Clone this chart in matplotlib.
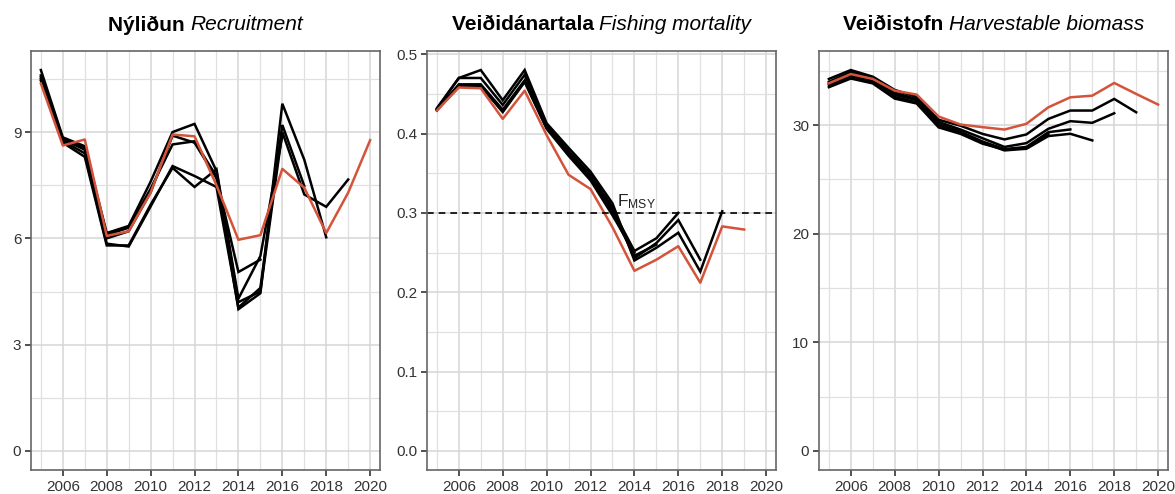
import numpy as np
import matplotlib
matplotlib.use("Agg")
import matplotlib.pyplot as plt
from matplotlib.ticker import MultipleLocator

plt.rcParams['font.family'] = ['Liberation Sans', 'DejaVu Sans']
plt.rcParams['mathtext.default'] = 'regular'

years = list(range(2005, 2021))

# Nýliðun / Recruitment
rec_current = [10.37, 8.62, 8.79, 6.07, 6.2, 7.29, 8.93, 8.88, 7.5, 5.96, 6.09, 7.96, 7.43, 6.15, 7.29, 8.77]
rec_retro = [
    [10.75, 8.85, 8.6, 6.15, 6.35, 7.6, 9.0, 9.23, 7.9, 4.2, 4.5, 9.0, 7.24, 6.89, 7.66],
    [10.6, 8.8, 8.5, 6.1, 6.3, 7.4, 8.65, 8.74, 7.75, 4.0, 4.45, 9.8, 8.22, 6.03],
    [10.5, 8.75, 8.4, 5.85, 5.77, 6.9, 8.04, 7.76, 7.45, 4.05, 4.6, 9.2, 7.48],
    [10.45, 8.7, 8.3, 5.8, 5.8, 6.95, 7.99, 7.45, 7.95, 4.3, 5.5, 8.9],
    [10.55, 8.8, 8.55, 6.0, 6.2, 7.3, 8.9, 8.7, 7.7, 5.05, 5.4],
]

# Veiðidánartala / Fishing mortality
f_current = [0.429, 0.458, 0.457, 0.4185, 0.454, 0.398, 0.348, 0.33, 0.282, 0.227, 0.241, 0.258, 0.212, 0.283, 0.279]
f_retro = [
    [0.432, 0.470, 0.480, 0.442, 0.480, 0.413, 0.382, 0.352, 0.312, 0.240, 0.256, 0.275, 0.226, 0.302],
    [0.431, 0.470, 0.470, 0.436, 0.474, 0.410, 0.378, 0.348, 0.307, 0.243, 0.262, 0.291, 0.241],
    [0.430, 0.462, 0.462, 0.430, 0.467, 0.409, 0.376, 0.346, 0.304, 0.252, 0.268, 0.300],
    [0.429, 0.460, 0.460, 0.428, 0.466, 0.407, 0.374, 0.343, 0.300, 0.246, 0.260],
    [0.430, 0.459, 0.460, 0.427, 0.465, 0.406, 0.372, 0.341, 0.297, 0.250],
]
f_msy = 0.3

# Veiðistofn / Harvestable biomass
b_current = [33.86, 34.71, 34.26, 33.18, 32.82, 30.8, 30.06, 29.82, 29.6, 30.13, 31.65, 32.57, 32.72, 33.89, 32.88, 31.9]
b_retro = [
    [34.26, 35.08, 34.47, 33.25, 32.6, 30.5, 29.95, 29.2, 28.69, 29.15, 30.58, 31.35, 31.35, 32.42, 31.19],
    [34.0, 34.9, 34.3, 33.0, 32.4, 30.3, 29.6, 28.8, 28.0, 28.35, 29.67, 30.37, 30.22, 31.1],
    [33.7, 34.5, 34.0, 32.6, 32.1, 29.9, 29.3, 28.4, 27.68, 27.83, 29.0, 29.21, 28.6],
    [33.85, 34.7, 34.1, 32.8, 32.3, 30.1, 29.4, 28.5, 27.8, 28.0, 29.36, 29.61],
    [33.5, 34.3, 33.85, 32.45, 32.0, 29.8, 29.2, 28.3, 27.75, 27.9, 29.2],
]

titles = [("Nýliðun", "Recruitment"),
          ("Veiðidánartala", "Fishing mortality"),
          ("Veiðistofn", "Harvestable biomass")]
red = '#d4533b'
W, H = 1175, 494

fig = plt.figure(figsize=(W / 100, H / 100), dpi=100)
lefts = [31, 427, 819]
pw = 349
bottom, top = 470, 51


def style_axis(ax, ymajor):
    ax.set_xlim(2004.55, 2020.45)
    ax.xaxis.set_major_locator(MultipleLocator(2))
    ax.xaxis.set_minor_locator(MultipleLocator(1))
    ax.yaxis.set_major_locator(MultipleLocator(ymajor))
    ax.yaxis.set_minor_locator(MultipleLocator(ymajor / 2))
    ax.grid(which='major', color='#d6d6d6', lw=1.1)
    ax.grid(which='minor', color='#e0e0e0', lw=0.9)
    ax.set_axisbelow(True)
    for s in ax.spines.values():
        s.set_color('#666666')
        s.set_linewidth(1.2)
    ax.tick_params(which='major', direction='out', length=4, width=1.2, color='#333333',
                   labelsize=11, labelcolor='#333333', pad=3)
    ax.tick_params(which='minor', length=0)


panels = [(rec_current, rec_retro, 3, '{:.0f}'),
          (f_current, f_retro, 0.1, '{:.1f}'),
          (b_current, b_retro, 10, '{:.0f}')]

for i, (cur, retro, ymaj, fmt) in enumerate(panels):
    ax = fig.add_axes([lefts[i] / W, 1 - bottom / H, pw / W, (bottom - top) / H])
    for r in retro:
        ax.plot(years[:len(r)], r, color='black', lw=1.8, solid_joinstyle='miter')
    ax.plot(years[:len(cur)], cur, color=red, lw=1.8)
    ymax = max(max(cur), max(max(r) for r in retro))
    ax.set_ylim(-0.05 * ymax, ymax * 1.05)
    style_axis(ax, ymaj)
    ax.yaxis.set_major_formatter(matplotlib.ticker.FuncFormatter(lambda v, p, f=fmt: f.format(v)))
    if i == 1:
        ax.axhline(f_msy, color='black', ls=(0, (4, 3)), lw=1.2)
        ax.text(2013.2, f_msy + 0.003, 'F$_{MSY}$', fontsize=12.5, color='#222222',
                ha='left', va='bottom')
    bold, ital = titles[i]
    cx = (lefts[i] + pw / 2) / W
    t1 = fig.text(0, 1 - 25 / H, bold + ' ', fontsize=15, fontweight='bold', va='center')
    t2 = fig.text(0, 1 - 25 / H, ital, fontsize=15, style='italic', va='center')
    fig.canvas.draw()
    r = fig.canvas.get_renderer()
    w1 = t1.get_window_extent(r).width
    w2 = t2.get_window_extent(r).width
    x0 = cx * W - (w1 + w2) / 2
    t1.set_x(x0 / W)
    t2.set_x((x0 + w1) / W)

fig.savefig('out.png', dpi=100)
